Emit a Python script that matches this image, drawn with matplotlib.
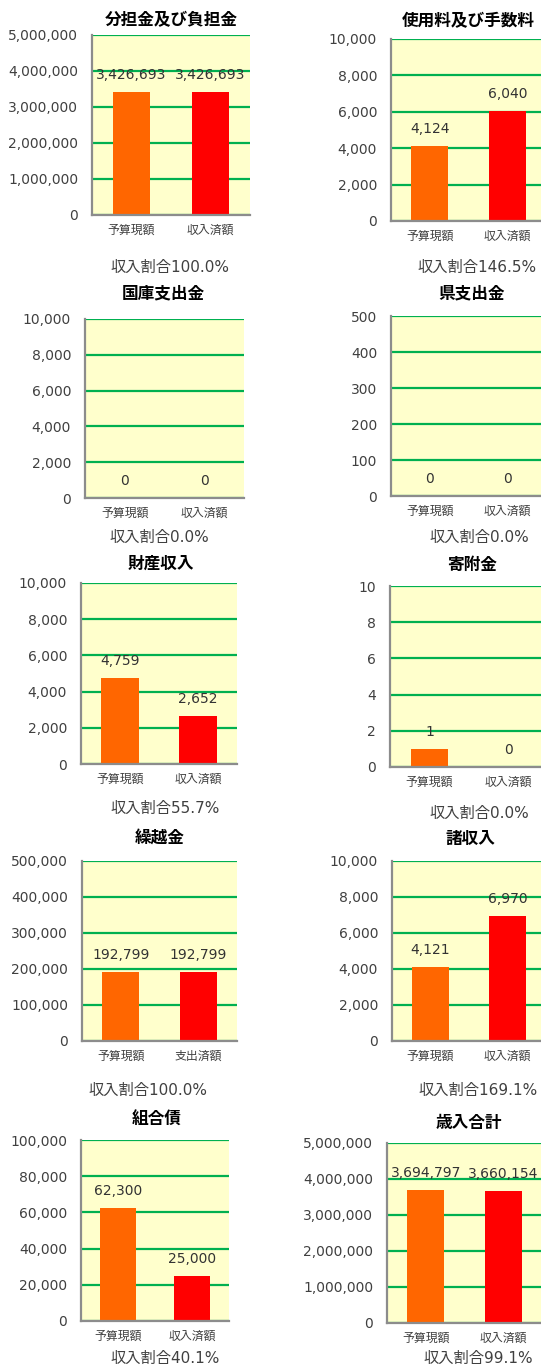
import matplotlib
matplotlib.use("Agg")
import matplotlib.pyplot as plt
from matplotlib.ticker import FuncFormatter, MultipleLocator

# ---------------- data ----------------
titles = ['分担金及び負担金', '使用料及び手数料', '国庫支出金', '県支出金', '財産収入',
          '寄附金', '繰越金', '諸収入', '組合債', '歳入合計']
budget = [3426693, 4124, 0, 0, 4759, 1, 192799, 4121, 62300, 3694797]
actual = [3426693, 6040, 0, 0, 2652, 0, 192799, 6970, 25000, 3660154]
y_max = [5000000, 10000, 10000, 500, 10000, 10, 500000, 10000, 100000, 5000000]
y_step = [1000000, 2000, 2000, 100, 2000, 2, 100000, 2000, 20000, 1000000]
cat_labels = [['予算現額', '収入済額']] * 6 + [['予算現額', '支出済額']] + [['予算現額', '収入済額']] * 3
ratio_prefix = '収入割合'

# ---------------- layout (pixels) ----------------
W, H = 541, 1367
layouts = [
    dict(ax=(92, 35, 250, 215), title=(171, 20), ratio=(170, 267)),
    dict(ax=(391, 39, 546, 221), title=(468, 21), ratio=(477, 267)),
    dict(ax=(85, 319, 244, 498), title=(163, 293), ratio=(159, 537)),
    dict(ax=(391, 316, 546, 496), title=(472, 293), ratio=(479, 537)),
    dict(ax=(81, 583, 237, 764), title=(161, 564), ratio=(165, 808)),
    dict(ax=(390, 586, 548, 767), title=(472, 565), ratio=(479, 813)),
    dict(ax=(82, 861, 237, 1041), title=(160, 838), ratio=(148, 1090)),
    dict(ax=(392, 861, 546, 1041), title=(470, 839), ratio=(478, 1090)),
    dict(ax=(81, 1140, 229, 1321), title=(157, 1120), ratio=(165, 1358)),
    dict(ax=(387, 1143, 542, 1323), title=(469, 1123), ratio=(478, 1358)),
]

NUM_FAM = ['DejaVu Sans', 'Noto Sans CJK JP']
CJK_FAM = ['Noto Sans CJK JP', 'DejaVu Sans']
PX2PT = 72 / 100

BG = '#FFFFCC'
GRID = '#00B050'
SPINE = '#8C8C8C'
TXT = '#404040'
BAR_COLORS = ['#FF6600', '#FF0000']

fig = plt.figure(figsize=(W / 100, H / 100), dpi=100)
fig.patch.set_facecolor('white')


def fx(x):
    return x / W


def fy(y):
    return 1 - y / H


for i, lay in enumerate(layouts):
    l, t, r, b = lay['ax']
    ax = fig.add_axes([fx(l), fy(b), (r - l) / W, (b - t) / H])
    ax.set_facecolor(BG)
    vals = [budget[i], actual[i]]
    ax.bar([0, 1], vals, width=0.48, color=BAR_COLORS, zorder=3)
    ax.set_xlim(-0.5, 1.5)
    ax.set_ylim(0, y_max[i])
    ax.yaxis.set_major_locator(MultipleLocator(y_step[i]))
    ax.yaxis.set_major_formatter(FuncFormatter(lambda v, p: f'{int(round(v)):,}'))
    ax.grid(axis='y', color=GRID, linewidth=1.6, zorder=1)
    ax.set_axisbelow(True)
    for s in ['top', 'right']:
        ax.spines[s].set_visible(False)
    for s in ['left', 'bottom']:
        ax.spines[s].set_color(SPINE)
        ax.spines[s].set_linewidth(1.6)
        ax.spines[s].set_zorder(4)
    ax.set_xticks([0, 1])
    ax.set_xticklabels(cat_labels[i], family=CJK_FAM, fontsize=8.6, color=TXT)
    ax.tick_params(axis='x', length=0, pad=6.5)
    ax.tick_params(axis='y', length=0, pad=10, labelsize=10, labelcolor=TXT)
    for lab in ax.get_yticklabels():
        lab.set_family(NUM_FAM)
    for k, v in enumerate(vals):
        ax.annotate(f'{v:,}', xy=(k, v), xytext=(0, 17 * PX2PT), textcoords='offset points',
                    ha='center', va='center', fontsize=10, color='#333333', family=NUM_FAM,
                    annotation_clip=False, zorder=5)
    tx, ty = lay['title']
    fig.text(fx(tx), fy(ty), titles[i], ha='center', va='center', fontsize=12,
             fontweight='bold', family=CJK_FAM, color='black')
    ratio = (actual[i] / budget[i] * 100) if budget[i] else 0.0
    rx, ry = lay['ratio']
    fig.text(fx(rx), fy(ry), f'{ratio_prefix}{ratio:.1f}%', ha='center', va='center',
             fontsize=11, family=NUM_FAM, color=TXT)

fig.savefig('out.png', dpi=100, facecolor='white')
